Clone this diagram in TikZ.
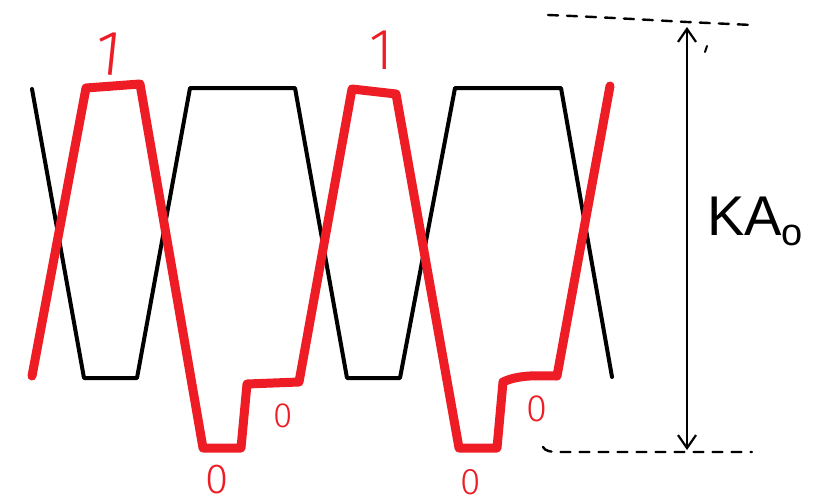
\documentclass[tikz,border=0pt]{standalone}
\usepackage{fontspec}
\setmainfont{Liberation Sans}
\newfontfamily\handfont{Fira Sans Light}
\usetikzlibrary{arrows.meta}
\definecolor{penred}{RGB}{238,28,36}
\tikzset{
  blackwave/.style={line width=4pt, line join=round, line cap=round, black},
  redwave/.style={line width=9pt, line join=round, line cap=round, penred},
  bitlabel/.style={penred, inner sep=0pt},
  guide/.style={line width=2.4pt, black, dash pattern=on 10pt off 9pt, line cap=round},
  dim/.style={line width=2.2pt, black, {Straight Barb[length=13pt,width=18pt,line width=2.2pt]}-{Straight Barb[length=13pt,width=18pt,line width=2.2pt]}},
}
\begin{document}
\begin{tikzpicture}[x=1pt,y=-1pt]
\useasboundingbox (0,0) rectangle (813,503);
\fill[white] (0,0) rectangle (813,503);
% black trapezoidal wave
\draw[blackwave] (32,89) -- (84,378) -- (137,378) -- (190,88) -- (295,88) -- (347,378) -- (400,378) -- (455,88) -- (561,88) -- (612,377);
% red wave
\draw[redwave] (32,376) -- (86,88) -- (140,84) -- (203,448) -- (241,448) -- (247,384) -- (299,382) -- (352,89) -- (396,94) -- (459,448) -- (497,448) -- (503,382) .. controls (520,374) and (540,376) .. (557,376) -- (610,86);
% labels 1 / 0
\node[bitlabel, anchor=base, rotate=-6, font=\handfont\fontsize{64}{66}\selectfont] (one1) at (107,75) {1};
\node[bitlabel, anchor=base, font=\handfont\fontsize{58}{60}\selectfont] (one2) at (381,69) {1};
\node[bitlabel, anchor=base, font=\handfont\fontsize{42}{46}\selectfont] (zero1) at (217,493) {0};
\node[bitlabel, anchor=base, font=\handfont\fontsize{35}{40}\selectfont] (zero2) at (283,427) {0};
\node[bitlabel, anchor=base, font=\handfont\fontsize{38}{40}\selectfont] (zero3) at (537,421) {0};
\node[bitlabel, anchor=base, font=\handfont\fontsize{37}{40}\selectfont] (zero4) at (471,494) {0};
% dashed guide lines
\draw[guide] (548,15) .. controls (600,17) and (650,20) .. (687,22) -- (752,25);
\draw[guide] (543,447) .. controls (545,451) and (550,452) .. (560,452) -- (752,452);
\draw[line width=2pt, line cap=round] (707,46) -- (705,52);
% dimension arrow
\coordinate (dimtop) at (687,27);
\coordinate (dimbot) at (687,450);
\draw[dim] (dimtop) -- (dimbot);
\node[anchor=base west, inner sep=0pt, font=\fontsize{56}{60}\selectfont] (ka) at (707,235) {KA\raisebox{-10pt}{\fontsize{38}{40}\selectfont o}};
\end{tikzpicture}
\end{document}
